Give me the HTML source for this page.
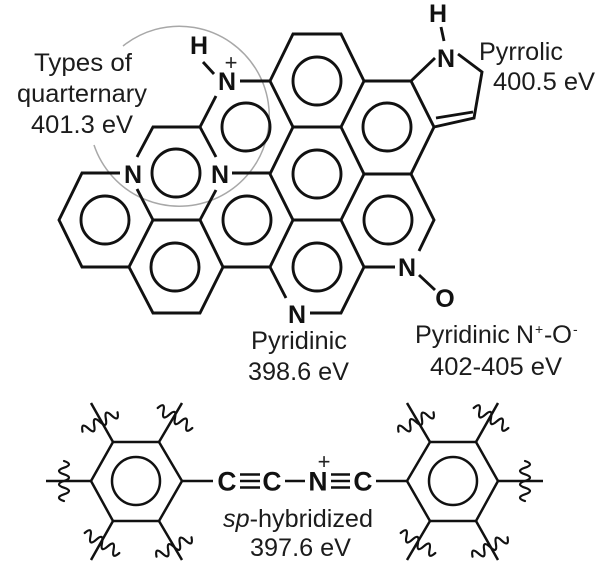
<!DOCTYPE html>
<html>
<head>
<meta charset="utf-8">
<style>
html,body{margin:0;padding:0;background:#fff;width:600px;height:565px;overflow:hidden}
svg{display:block;filter:blur(0.35px)}
.l{font-family:"Liberation Sans",sans-serif;font-size:25px;fill:#1c1c1c}
.b{font-family:"Liberation Sans",sans-serif;font-size:25px;font-weight:bold;fill:#111;text-anchor:middle}
.c{font-family:"Liberation Sans",sans-serif;font-size:26.5px;font-weight:bold;fill:#111;text-anchor:middle}
.p{font-family:"Liberation Sans",sans-serif;font-size:22px;fill:#222;text-anchor:middle}
.sup{font-family:"Liberation Sans",sans-serif;font-size:14px;fill:#222}
</style>
</head>
<body>
<svg width="600" height="565" viewBox="0 0 600 565" xmlns="http://www.w3.org/2000/svg">
<path d="M123 46 A90 90 0 1 1 94 145" fill="none" stroke="#a8a8a8" stroke-width="1.5"/>

<g fill="none" stroke="#111" stroke-width="2.9" stroke-linejoin="miter" stroke-linecap="butt">
<!-- upper lattice -->
<path d="M270 81 L293 34 L341 34 L364 81 L341 127 L293 127 L270 81"/>
<path d="M364 81 L411 81 L434 127 L411 174 L364 174 L341 127"/>
<path d="M293 127 L270 174 L293 220 L341 220 L364 174"/>
<path d="M293 220 L270 267 L223 267 L200 220 L153 220 L129 267 L153 313 L200 313 L223 267"/>
<path d="M341 220 L364 267 L341 313 L310 313"/>
<path d="M411 174 L434 220 L419 251"/>
<path d="M364 267 L395 267"/>
<path d="M270 267 L286 298"/>
<path d="M129 267 L82 267 L59 220 L82 173 L120 173"/>
<path d="M153 220 L137 189"/>
<path d="M200 220 L216 190"/>
<path d="M232 173 L270 173"/>
<path d="M240 81 L270 81"/>
<path d="M216 96 L200 127 L216 157"/>
<path d="M200 127 L153 127 L137 157"/>
<path d="M203 62 L214 74"/>
<path d="M441 27 L444 41"/>
<path d="M411 81 L435 58"/>
<path d="M458 54 L482 72 L474 118 L434 127"/>
<path d="M436 118 L473 112"/>
<path d="M419 275 L435 290"/>
<!-- aromatic circles -->
<circle cx="317" cy="81" r="24"/>
<circle cx="387" cy="127" r="24"/>
<circle cx="317" cy="174" r="24"/>
<circle cx="246" cy="127" r="24"/>
<circle cx="176" cy="173" r="24"/>
<circle cx="247" cy="220" r="24"/>
<circle cx="105" cy="220" r="24"/>
<circle cx="175" cy="267" r="24"/>
<circle cx="317" cy="267" r="24"/>
<circle cx="388" cy="220" r="24"/>
</g>

<g fill="none" stroke="#111" stroke-width="2.5">
<!-- lower molecule -->
<path d="M91 481 L113 442 L159 442 L182 481 L159 521 L113 521 Z"/>
<path d="M407 481 L430 442 L476 442 L498 481 L476 521 L430 521 Z"/>
<circle cx="136" cy="481" r="24"/>
<circle cx="453" cy="481" r="24"/>
<path d="M113 442 L91 403 M159 442 L182 403 M91 481 L46 481 M113 521 L91 560 M159 521 L182 560 M182 481 L213 481"/>
<path d="M430 442 L407 403 M476 442 L498 403 M498 481 L543 481 M430 521 L407 560 M476 521 L498 560 M376 481 L407 481"/>
<path d="M285 481 L305 481"/>
<path d="M240 474.500 H260 M240 481 H260 M240 487.500 H260"/>
<path d="M331 474.500 H350 M331 481 H350 M331 487.500 H350"/>
</g>

<!-- wavy bond marks -->
<g fill="none" stroke="#111" stroke-width="2.2" stroke-linecap="round">
<path transform="translate(64 481) rotate(90)" d="M-20 0 q3.330 -10 6.670 0 t6.670 0 t6.670 0 t6.670 0 t6.670 0 t6.670 0"/>
<path transform="translate(525 481) rotate(90)" d="M-20 0 q3.330 -10 6.670 0 t6.670 0 t6.670 0 t6.670 0 t6.670 0 t6.670 0"/>
<path transform="translate(100 422) rotate(-29)" d="M-20 0 q3.330 -10 6.670 0 t6.670 0 t6.670 0 t6.670 0 t6.670 0 t6.670 0"/>
<path transform="translate(416 422) rotate(-29)" d="M-20 0 q3.330 -10 6.670 0 t6.670 0 t6.670 0 t6.670 0 t6.670 0 t6.670 0"/>
<path transform="translate(175 418) rotate(30)" d="M-20 0 q3.330 -10 6.670 0 t6.670 0 t6.670 0 t6.670 0 t6.670 0 t6.670 0"/>
<path transform="translate(491 418) rotate(30)" d="M-20 0 q3.330 -10 6.670 0 t6.670 0 t6.670 0 t6.670 0 t6.670 0 t6.670 0"/>
<path transform="translate(102 543) rotate(30)" d="M-20 0 q3.330 -10 6.670 0 t6.670 0 t6.670 0 t6.670 0 t6.670 0 t6.670 0"/>
<path transform="translate(418 543) rotate(30)" d="M-20 0 q3.330 -10 6.670 0 t6.670 0 t6.670 0 t6.670 0 t6.670 0 t6.670 0"/>
<path transform="translate(174 547) rotate(-29)" d="M-20 0 q3.330 -10 6.670 0 t6.670 0 t6.670 0 t6.670 0 t6.670 0 t6.670 0"/>
<path transform="translate(490 547) rotate(-29)" d="M-20 0 q3.330 -10 6.670 0 t6.670 0 t6.670 0 t6.670 0 t6.670 0 t6.670 0"/>
</g>

<!-- atoms -->
<text class="b" x="199" y="54">H</text>
<text class="b" x="227" y="90">N</text>
<text class="p" x="231" y="70">+</text>
<text class="b" x="133" y="183">N</text>
<text class="b" x="220" y="183">N</text>
<text class="b" x="297" y="323">N</text>
<text class="b" x="407" y="276">N</text>
<text class="b" x="445" y="307">O</text>
<text class="b" x="438" y="22">H</text>
<text class="b" x="446" y="67">N</text>
<text class="c" x="227" y="490.500">C</text>
<text class="c" x="272" y="490.500">C</text>
<text class="c" x="318" y="490.500">N</text>
<text class="p" x="324" y="469">+</text>
<text class="c" x="363" y="490.500">C</text>

<!-- labels -->
<text class="l" x="34" y="71" textLength="98" lengthAdjust="spacingAndGlyphs">Types of</text>
<text class="l" x="17" y="102" textLength="130" lengthAdjust="spacingAndGlyphs">quarternary</text>
<text class="l" x="31" y="133" textLength="102" lengthAdjust="spacingAndGlyphs">401.3 eV</text>
<text class="l" x="479" y="60" textLength="84" lengthAdjust="spacingAndGlyphs">Pyrrolic</text>
<text class="l" x="493" y="90" textLength="102" lengthAdjust="spacingAndGlyphs">400.5 eV</text>
<text class="l" x="251" y="349" textLength="96" lengthAdjust="spacingAndGlyphs">Pyridinic</text>
<text class="l" x="248" y="380" textLength="101" lengthAdjust="spacingAndGlyphs">398.6 eV</text>
<text class="l" x="415" y="343" textLength="95" lengthAdjust="spacingAndGlyphs">Pyridinic</text>
<text class="l" x="516" y="343" textLength="18" lengthAdjust="spacingAndGlyphs">N</text>
<text class="sup" x="535" y="334">+</text>
<text class="l" x="544" y="343">-</text>
<text class="l" x="552" y="343" textLength="20" lengthAdjust="spacingAndGlyphs">O</text>
<text class="sup" x="573" y="334">-</text>
<text class="l" x="430" y="375" textLength="132" lengthAdjust="spacingAndGlyphs">402-405 eV</text>
<text class="l" x="223" y="527" textLength="150" lengthAdjust="spacingAndGlyphs"><tspan font-style="italic">sp</tspan>-hybridized</text>
<text class="l" x="250" y="556" textLength="101" lengthAdjust="spacingAndGlyphs">397.6 eV</text>
</svg>
</body>
</html>
